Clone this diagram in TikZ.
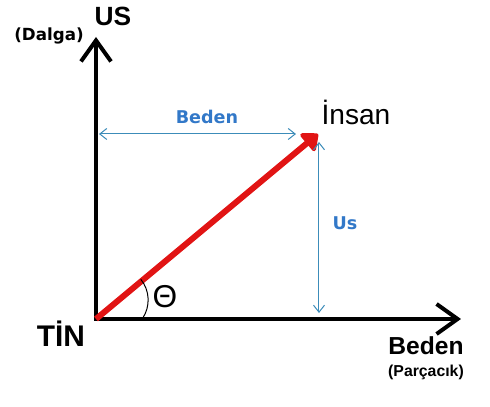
\documentclass[tikz,border=0pt]{standalone}
\usepackage{fontspec}
\setmainfont{Liberation Sans}
\newfontfamily\wideSans{DejaVu Sans}
\usetikzlibrary{arrows.meta}

\begin{document}
\begin{tikzpicture}[
  axis/.style={line width=0.08cm, line join=miter, {Straight Barb[length=0.42cm,width=0.6cm]}-{Straight Barb[length=0.42cm,width=0.6cm]}},
  vec/.style={vecRed, line width=0.12cm, -{Triangle[length=0.32cm,width=0.52cm,round]}},
  dim/.style={lineBlue, line width=0.02cm, {Straight Barb[length=1.4mm,width=2.2mm]}-{Straight Barb[length=1.4mm,width=2.2mm]}},
  bigLabel/.style={font=\fontsize{14}{16}\selectfont\bfseries, inner sep=0pt},
  smallLabel/.style={font=\fontsize{9}{10}\selectfont\bfseries, inner sep=0pt},
  blueLabel/.style={text=labelBlue, font=\wideSans\fontsize{10}{12}\selectfont\bfseries, inner sep=0pt}]

\definecolor{labelBlue}{RGB}{50,120,200}
\definecolor{lineBlue}{RGB}{60,140,185}
\definecolor{vecRed}{RGB}{225,20,20}
\useasboundingbox (0,0) rectangle (9.8,8.14);

% Axes
\coordinate (O) at (1.92,1.76);
\coordinate (Yend) at (1.92,7.40);
\coordinate (Xend) at (9.22,1.76);
\draw[axis] (Yend) -- (O) -- (Xend);

% Vector to Insan
\coordinate (P) at (6.36,5.46);
\draw[vec] (O) -- (P);

% Dimension lines
\coordinate (bL) at (1.98,5.46);
\coordinate (bR) at (5.92,5.46);
\draw[dim] (bL) -- (bR);
\coordinate (uT) at (6.38,5.30);
\coordinate (uB) at (6.38,1.88);
\draw[dim] (uT) -- (uB);

% Angle
\draw[line width=0.02cm] ([shift={(0.93,0.01)}]O) arc[start angle=-34, end angle=39, radius=0.66cm];
\node (theta) at (3.30,2.20) [font=\fontsize{18}{20}\selectfont, inner sep=0pt] {Θ};

% Labels
\node (us) at (2.26,7.82) [bigLabel, font=\fontsize{15}{16}\selectfont\bfseries] {US};
\node (dalga) at (0.98,7.42) [smallLabel, font=\wideSans\fontsize{9.5}{10}\selectfont\bfseries] {(Dalga)};
\node (insan) at (7.12,5.90) [font=\fontsize{16}{18}\selectfont, inner sep=0pt] {İnsan};
\node (bedenTop) at (4.14,5.80) [blueLabel] {Beden};
\node (usSide) at (6.90,3.68) [blueLabel] {Us};
\node (tin) at (1.22,1.46) [bigLabel, font=\fontsize{17}{18}\selectfont\bfseries] {TİN};
\node (beden) at (8.52,1.22) [bigLabel] {Beden};
\node (parcacik) at (8.52,0.70) [smallLabel] {(Parçacık)};

\end{tikzpicture}
\end{document}
